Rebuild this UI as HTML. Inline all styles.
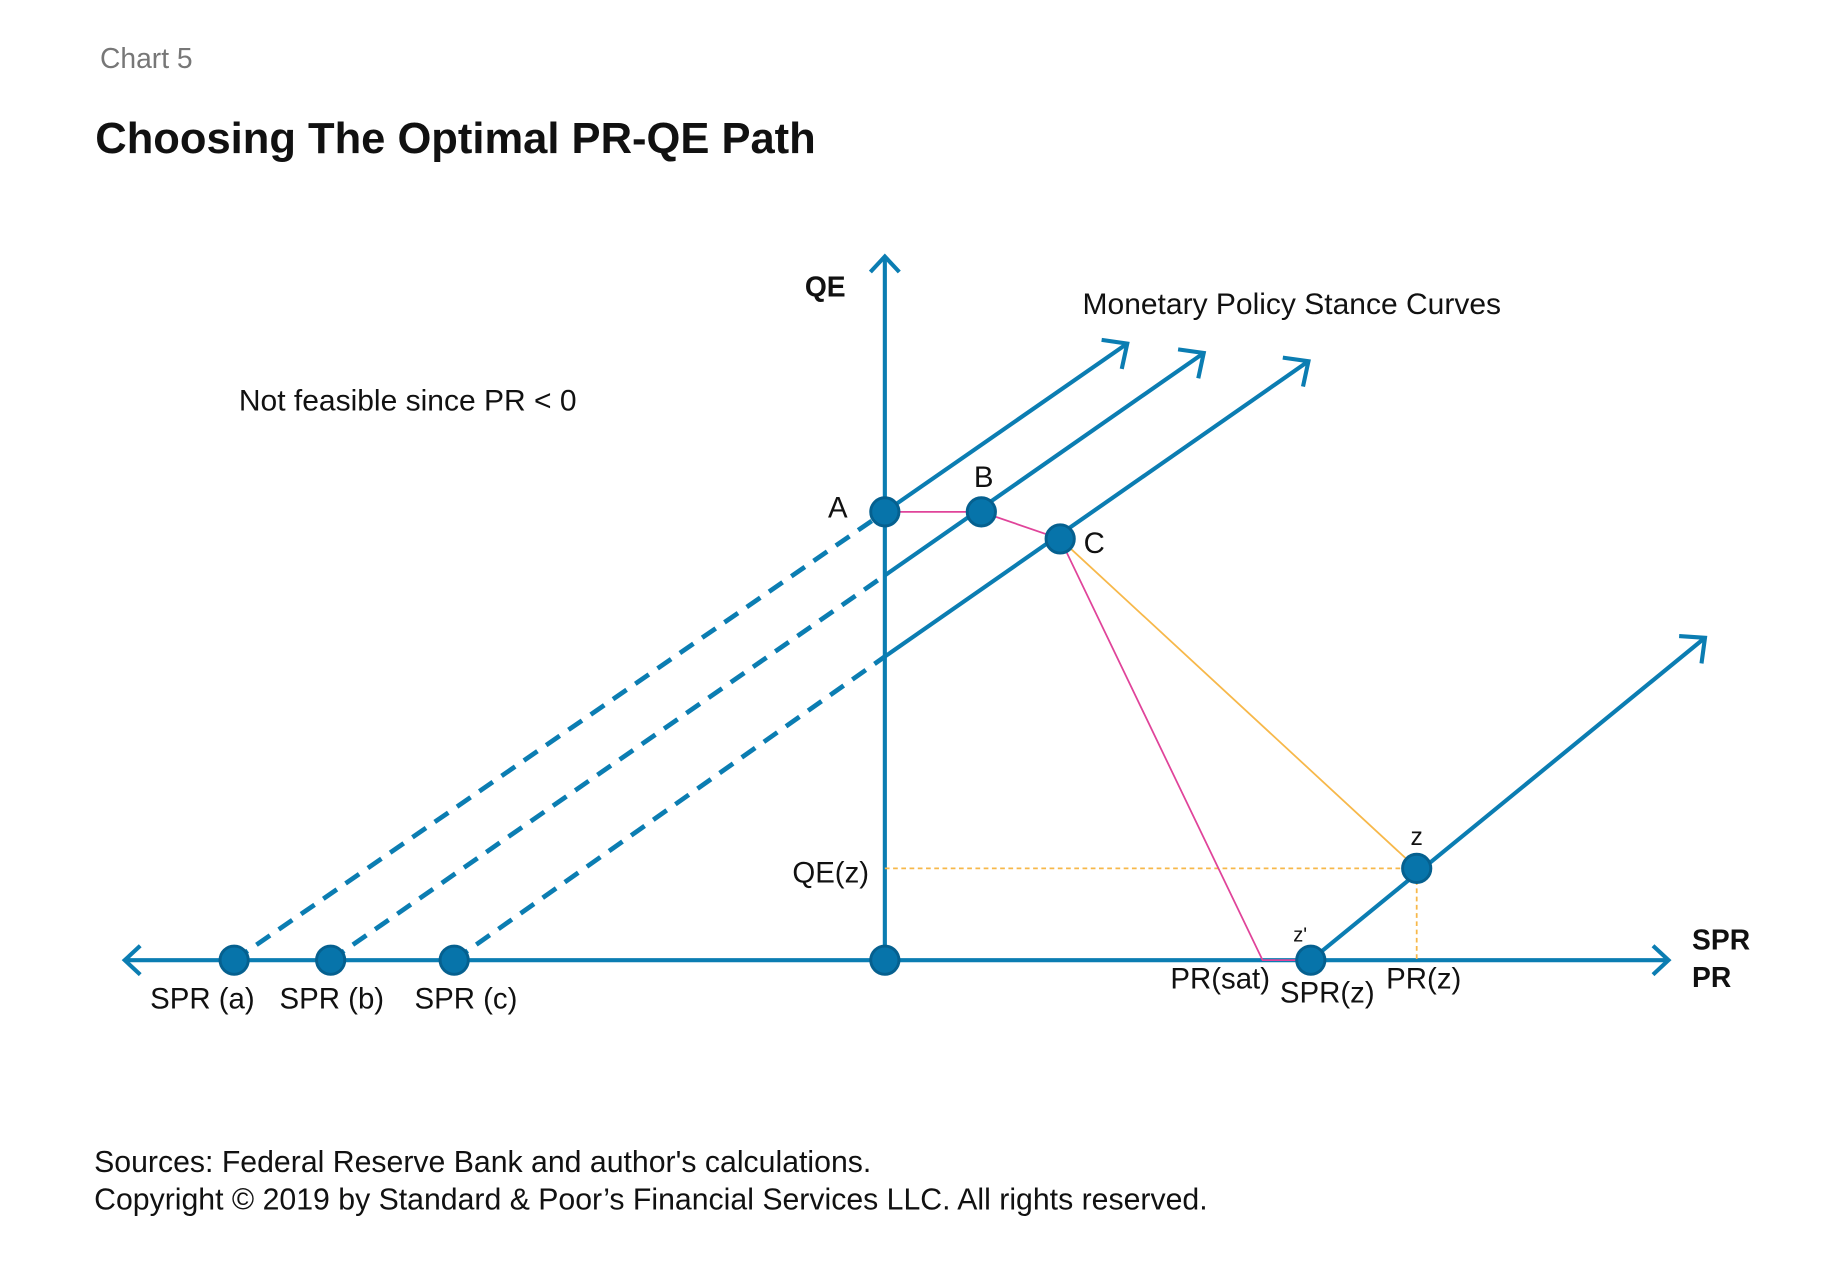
<!DOCTYPE html>
<html><head><meta charset="utf-8"><style>
html,body{margin:0;padding:0;background:#fff;}
svg{display:block;}
text{font-family:"Liberation Sans",Arial,sans-serif;fill:#111;}
</style></head><body>
<svg id="chart" width="1845" height="1272" viewBox="0 0 1568 1081" preserveAspectRatio="none" xmlns="http://www.w3.org/2000/svg">
<text x="85" y="58" font-size="24" style="fill:#777">Chart 5</text>
<text x="81" y="130" font-size="37" font-weight="bold">Choosing The Optimal PR-QE Path</text>
<g id="marks"></g>
<text x="684" y="252" font-size="24" font-weight="bold">QE</text>
<text x="1438" y="807" font-size="24" font-weight="bold">SPR</text>
<text x="1438" y="839" font-size="24" font-weight="bold">PR</text>
<text x="920" y="267" font-size="25.5">Monetary Policy Stance Curves</text>
<text x="203" y="349" font-size="25.5">Not feasible since PR &lt; 0</text>
<text x="80" y="996" font-size="25.7">Sources: Federal Reserve Bank and author's calculations.</text>
<text x="80" y="1028" font-size="25.7">Copyright © 2019 by Standard &amp; Poor’s Financial Services LLC. All rights reserved.</text>
</svg>
<script>
// Data in chart units (origin at axis intersection; x right, y up)
const pointNames = ['A','B','C','z','z-prime','origin','spr-a','spr-b','spr-c'];
const pointX = [0, 82, 149, 452, 362, 0, -553, -471, -366];
const pointY = [381, 381, 358, 78, 0, 0, 0, 0, 0];
const curveStartX = [0, 0, 0, 362];
const curveStartY = [381, 327, 258, 0];
const curveEndX = [206, 271, 360, 697];
const curveEndY = [524, 516, 509, 274];
const dashStartX = [-553, -471, -366];
const dashEndX = [0, 0, 0];
const dashEndY = [381, 327, 258];
const prSatX = 321;
const labelText = ['A','B','C','z',"z'",'QE(z)','PR(sat)','SPR(z)','PR(z)','SPR (a)','SPR (b)','SPR (c)'];
const labelX = [-40, 84, 178, 452, 353, -46, 285, 376, 458, -580, -470, -356];
const labelY = [376, 402, 346, 98, 16, 66, -24, -36, -24, -41, -41, -41];
const labelSize = [25, 25, 25, 21, 17, 25, 25, 25, 25, 25, 25, 25];

const OX = 752, OY = 816;
const sx = v => OX + v;
const sy = v => OY - v;
const NS = 'http://www.w3.org/2000/svg';
const g = document.getElementById('marks');
const BLUE = '#0b7db2';
function mk(tag, attrs){const e=document.createElementNS(NS,tag);for(const k in attrs)e.setAttribute(k,attrs[k]);g.appendChild(e);return e;}
function arrowHead(x1,y1,x2,y2,len){const a=Math.atan2(y2-y1,x2-x1);const p=[];for(const d of [2.5,-2.5]){const b=a+Math.PI+d*0.3;p.push((x2+len*Math.cos(b))+','+(y2+len*Math.sin(b)));}
 return mk('polyline',{points:p[0]+' '+x2+','+y2+' '+p[1],fill:'none',stroke:BLUE,'stroke-width':3.5});}

let e;
e=mk('line',{x1:sx(-646),y1:sy(0),x2:sx(666),y2:sy(0),stroke:BLUE,'stroke-width':3.5});


e=arrowHead(sx(0),sy(0),sx(666),sy(0),18);


e=arrowHead(sx(0),sy(0),sx(-646),sy(0),18);


e=mk('line',{x1:sx(0),y1:sy(0),x2:sx(0),y2:sy(598),stroke:BLUE,'stroke-width':3.5});


e=arrowHead(sx(0),sy(0),sx(0),sy(598),18);



for(let i=0;i<dashStartX.length;i++){
 e=mk('line',{x1:sx(dashStartX[i]),y1:sy(0),x2:sx(dashEndX[i]),y2:sy(dashEndY[i]),stroke:BLUE,'stroke-width':4,'stroke-dasharray':'14 9'});
 
 
}
for(let i=0;i<curveStartX.length;i++){
 e=mk('line',{x1:sx(curveStartX[i]),y1:sy(curveStartY[i]),x2:sx(curveEndX[i]),y2:sy(curveEndY[i]),stroke:BLUE,'stroke-width':3.5});
 
 
 e=arrowHead(sx(curveStartX[i]),sy(curveStartY[i]),sx(curveEndX[i]),sy(curveEndY[i]),22);
 
 
}
e=mk('polyline',{points:`${sx(0)},${sy(pointY[3])} ${sx(pointX[3])},${sy(pointY[3])} ${sx(pointX[3])},${sy(0)}`,fill:'none',stroke:'#f7b84a','stroke-width':1.5,'stroke-dasharray':'4 3'});


e=mk('line',{x1:sx(pointX[2]),y1:sy(pointY[2]),x2:sx(pointX[3]),y2:sy(pointY[3]),stroke:'#f7b84a','stroke-width':1.5});


e=mk('polyline',{points:`${sx(pointX[0])},${sy(pointY[0])} ${sx(pointX[1])},${sy(pointY[1])} ${sx(pointX[2])},${sy(pointY[2])} ${sx(prSatX)},${sy(0)} ${sx(pointX[4])},${sy(0)}`,fill:'none',stroke:'#e0449a','stroke-width':1.5});


for(let i=0;i<pointNames.length;i++){
 e=mk('circle',{cx:sx(pointX[i]),cy:sy(pointY[i]),r:12,fill:'#0774aa',stroke:'#05608f','stroke-width':2.5});
 
 
}
for(let i=0;i<labelText.length;i++){
 e=mk('text',{x:sx(labelX[i]),y:sy(labelY[i]),'font-size':labelSize[i],'text-anchor':'middle'});
 e.textContent=labelText[i];
 
 
}
</script>
</body></html>
